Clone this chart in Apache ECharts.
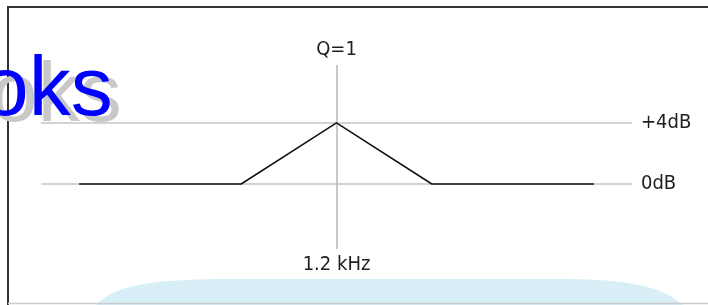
<!DOCTYPE html>
<html>
<head>
    <meta charset="utf-8"/>
    <style>
        html, body {
            margin: 0;
            padding: 0;
            background: #ffffff;
        }

        #main {
            width: 708px;
            height: 305px;
        }
    </style>
</head>
<body>
<div id="main"></div>
<script src="https://cdn.jsdelivr.net/npm/echarts@6/dist/echarts.min.js"></script>
<script type="text/javascript">
    // 曲线数据 (x: 相对频率, y: 增益 dB)
    var freqPos = [-2.7, -1, 0, 1, 2.7];
    var gainDb = [0, 0, 4, 0, 0];
    // 刻度标签
    var levelValues = [0, 4];
    var levelLabels = ['0dB', '+4dB'];
    var centerFreqLabel = '1.2 kHz';
    var qLabel = 'Q=1';

    var myChart = echarts.init(document.getElementById('main'));

    var labelFont = {
        color: '#1e1e1e',
        fontSize: 20,
        fontFamily: '"Liberation Sans Narrow", "DejaVu Sans Condensed", Roboto'
    };

    var lines = [];
    for (var i = 0; i < levelValues.length; i++) {
        lines.push({
            yAxis: levelValues[i],
            label: Object.assign({position: 'end', distance: 9, formatter: levelLabels[i]}, labelFont)
        });
    }
    lines.push({
        xAxis: 0,
        label: Object.assign({position: 'end', distance: 5, formatter: qLabel}, labelFont)
    });
    lines.push({
        xAxis: 0,
        label: Object.assign({position: 'start', distance: 6, formatter: centerFreqLabel}, labelFont)
    });

    var points = [];
    for (var j = 0; j < freqPos.length; j++) {
        points.push([freqPos[j], gainDb[j]]);
    }

    // 背景装饰的轮廓 (三次贝塞尔采样)
    function bez(p0, p1, p2, p3, n, out) {
        for (var k = 0; k <= n; k++) {
            var t = k / n, u = 1 - t;
            out.push([
                u * u * u * p0[0] + 3 * u * u * t * p1[0] + 3 * u * t * t * p2[0] + t * t * t * p3[0],
                u * u * u * p0[1] + 3 * u * u * t * p1[1] + 3 * u * t * t * p2[1] + t * t * t * p3[1]
            ]);
        }
    }
    var blob = [];
    bez([95, 306], [112, 286], [150, 279], [230, 279], 20, blob);
    bez([560, 279], [630, 279], [664, 287], [684, 306], 20, blob);

    var option = {
        animation: false,
        grid: {left: 41, right: 76, top: 65, bottom: 56},
        xAxis: {type: 'value', min: -3.1, max: 3.1, show: false},
        yAxis: {type: 'value', min: -4.26, max: 7.8, show: false},
        graphic: [
            {
                type: 'polygon',
                z: -10,
                shape: {points: blob},
                style: {fill: '#d9eff7'}
            },
            {
                type: 'polyline',
                shape: {points: [[8, 310], [8, 7], [720, 7]]},
                style: {stroke: '#333333', lineWidth: 2, fill: null}
            },
            {
                type: 'line',
                shape: {x1: 8, y1: 303.5, x2: 720, y2: 303.5},
                style: {stroke: '#cccccc', lineWidth: 1.5}
            },
            {
                type: 'text',
                z: 100,
                style: {x: -9, y: 98, text: 'oks', font: '84px "Liberation Sans"', fill: '#c8c8c8', textVerticalAlign: 'middle'}
            },
            {
                type: 'text',
                z: 101,
                style: {x: -18, y: 92, text: 'oks', font: '84px "Liberation Sans"', fill: '#0000ff', textVerticalAlign: 'middle'}
            }
        ],
        series: [{
            type: 'line',
            data: points,
            symbol: 'none',
            lineStyle: {color: '#111111', width: 1.5},
            z: 5,
            markLine: {
                silent: true,
                symbol: 'none',
                lineStyle: {color: '#c4c4c4', width: 1.5, type: 'solid'},
                data: lines
            }
        }]
    };

    myChart.setOption(option);
</script>
</body>
</html>
